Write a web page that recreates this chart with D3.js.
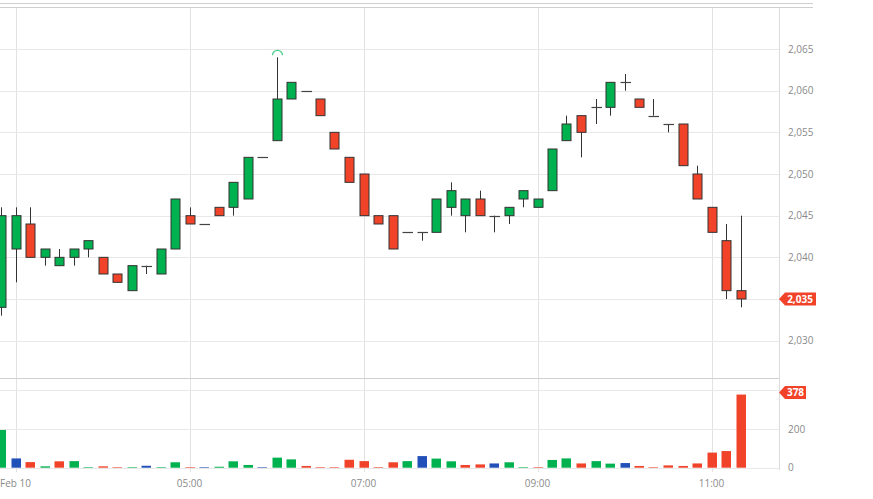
<!DOCTYPE html>
<html><head><meta charset="utf-8">
<script src="https://cdn.jsdelivr.net/npm/d3@7"></script>
<style>body{margin:0;background:#fff;}svg{display:block;font-family:"Open Sans",sans-serif;}</style>
</head><body><svg id="c" width="873" height="499"></svg>
<script>
const times = ["02:50","03:00","03:10","03:20","03:30","03:40","03:50","04:00","04:10","04:20","04:30","04:40","04:50",
"05:00","05:10","05:20","05:30","05:40","05:50","06:00","06:10","06:20","06:30","06:40","06:50",
"07:00","07:10","07:20","07:30","07:40","07:50","08:00","08:10","08:20","08:30","08:40","08:50",
"09:00","09:10","09:20","09:30","09:40","09:50","10:00","10:10","10:20","10:30","10:40","10:50",
"11:00","11:10","11:20"];
const open  = [2034,2041,2044,2040,2039,2040,2041,2040,2038,2036,2039,2038,2041,2045,2044,2046,2046,2047,2052,2054,2059,2060,2059,2055,2052,2050,2045,2045,2043,2043,2043,2046,2045,2047,2045,2045,2047,2046,2048,2054,2057,2058,2058,2061,2059,2057,2056,2056,2050,2046,2042,2036];
const high  = [2046,2046,2046,2041,2041,2041,2042,2040,2038,2039,2039,2041,2047,2046,2044,2046,2049,2052,2052,2064,2061,2060,2059,2055,2052,2050,2045,2045,2043,2043,2047,2049,2047,2048,2045,2046,2048,2047,2053,2057,2057,2059,2061,2062,2059,2059,2056,2056,2051,2046,2044,2045];
const low   = [2033,2037,2040,2039,2039,2039,2040,2038,2037,2036,2038,2038,2041,2044,2044,2045,2045,2047,2052,2054,2059,2060,2057,2053,2049,2045,2044,2041,2043,2042,2043,2045,2043,2045,2043,2044,2046,2046,2048,2054,2052,2056,2057,2060,2058,2057,2055,2051,2047,2043,2035,2034];
const close = [2045,2045,2040,2041,2040,2041,2042,2038,2037,2039,2039,2041,2047,2044,2044,2045,2049,2052,2052,2059,2061,2060,2057,2053,2049,2045,2044,2041,2043,2043,2047,2048,2047,2045,2045,2046,2048,2047,2053,2056,2055,2058,2061,2061,2058,2057,2056,2051,2047,2043,2036,2035];
const volume = [195,48,29,7,33,34,3,7,3,3,10,3,28,3,3,5,33,14,3,52,43,9,3,3,41,34,3,28,34,60,47,33,14,17,22,28,3,3,40,48,22,34,21,24,9,3,12,9,22,78,86,378];
const priceTicks = [2030,2035,2040,2045,2050,2055,2060,2065];
const volTicks = [0,200];
const volGrid = [0,200,400];
const xTickTimes = ["03:00","05:00","07:00","09:00","11:00"];
const xTickLabels = ["Feb 10","05:00","07:00","09:00","11:00"];

const GREEN="#00b14f", RED="#f0432a", BLUE="#2150b8", EDGE="#333";
const parse = d3.timeParse("%H:%M");
const svg = d3.select("#c");
const W = 779;
const x = d3.scaleTime().domain([parse("03:00"), parse("11:00")]).range([15.5, 711.5]);
const y = d3.scaleLinear().domain([2035, 2065]).range([299, 49]);
const yv = d3.scaleLinear().domain([0, 200]).range([467.7, 429]);

const data = times.map((t,i)=>({t:parse(t),o:open[i],h:high[i],l:low[i],c:close[i],v:volume[i],
  vc: i===0 ? GREEN : (close[i]>close[i-1]?GREEN:(close[i]<close[i-1]?RED:BLUE))}));

// top border lines
svg.append("line").attr("x1",0).attr("x2",813).attr("y1",3.5).attr("y2",3.5).attr("stroke","#cfcfcf");
svg.append("line").attr("x1",0).attr("x2",813).attr("y1",7.5).attr("y2",7.5).attr("stroke","#cfcfcf");

// vertical grid
const xt = xTickTimes.map(parse);
svg.append("g").selectAll("line").data(xt).join("line")
  .attr("x1",d=>Math.round(x(d))+0.5).attr("x2",d=>Math.round(x(d))+0.5)
  .attr("y1",8).attr("y2",472).attr("stroke","#e2e2e2");

// price horizontal grid
svg.append("g").selectAll("line").data(priceTicks).join("line")
  .attr("x1",0).attr("x2",W).attr("y1",d=>Math.round(y(d))+0.5).attr("y2",d=>Math.round(y(d))+0.5)
  .attr("stroke","#e8e8e8");
// volume grid
svg.append("g").selectAll("line").data(volGrid).join("line")
  .attr("x1",0).attr("x2",W).attr("y1",d=>Math.round(yv(d))+0.5).attr("y2",d=>Math.round(yv(d))+0.5)
  .attr("stroke","#e8e8e8");
// separator
svg.append("line").attr("x1",0).attr("x2",W).attr("y1",378.5).attr("y2",378.5).attr("stroke","#cfcfcf");
// right axis line
svg.append("line").attr("x1",W+0.5).attr("x2",W+0.5).attr("y1",8).attr("y2",470).attr("stroke","#dcdcdc");

// price axis labels
const fmt = d3.format(",");
svg.append("g").selectAll("text").data(priceTicks).join("text")
  .attr("x",788).attr("y",d=>y(d)).attr("dy","0.35em").attr("font-size",10).attr("fill","#8a8a8a")
  .text(d=>fmt(d));
svg.append("g").selectAll("text").data(volTicks).join("text")
  .attr("x",788).attr("y",d=>yv(d)).attr("dy","0.35em").attr("font-size",10).attr("fill","#8a8a8a")
  .text(d=>d);
// x labels
svg.append("g").selectAll("text").data(xt).join("text")
  .attr("x",d=>x(d)).attr("y",483).attr("dy","0.35em").attr("text-anchor","middle")
  .attr("font-size",10).attr("fill","#8a8a8a").text((d,i)=>xTickLabels[i]);

// price panel clip
svg.append("clipPath").attr("id","pc").append("rect").attr("x",0).attr("y",8).attr("width",W).attr("height",370);
const pg = svg.append("g").attr("clip-path","url(#pc)");
const bw = 9;
// wicks
pg.selectAll("line.w").data(data).join("line").attr("class","w")
  .attr("x1",d=>Math.round(x(d.t))+0.5).attr("x2",d=>Math.round(x(d.t))+0.5)
  .attr("y1",d=>y(d.h)).attr("y2",d=>y(d.l)).attr("stroke",EDGE).attr("stroke-width",1);
// bodies
pg.selectAll("rect.b").data(data.filter(d=>d.o!==d.c)).join("rect").attr("class","b")
  .attr("x",d=>Math.round(x(d.t))-bw/2+0.5).attr("width",bw)
  .attr("y",d=>y(Math.max(d.o,d.c))).attr("height",d=>Math.abs(y(d.o)-y(d.c)))
  .attr("fill",d=>d.c>d.o?GREEN:RED).attr("stroke",EDGE).attr("stroke-width",1);
// doji
pg.selectAll("line.d").data(data.filter(d=>d.o===d.c)).join("line").attr("class","d")
  .attr("x1",d=>Math.round(x(d.t))-bw/2-0.5+0.5).attr("x2",d=>Math.round(x(d.t))+bw/2+1.5)
  .attr("y1",d=>Math.round(y(d.o))+0.5).attr("y2",d=>Math.round(y(d.o))+0.5)
  .attr("stroke","#444").attr("stroke-width",1.2);

// high marker arc
const hi = data.reduce((a,b)=>b.h>a.h?b:a);
pg.append("path")
  .attr("d", d3.arc()({innerRadius:5,outerRadius:5,startAngle:-Math.PI/2,endAngle:Math.PI/2}))
  .attr("transform",`translate(${Math.round(x(hi.t))+0.5},${y(hi.h)-2})`)
  .attr("fill","none").attr("stroke","#4fd08e").attr("stroke-width",1.3);

// volume bars
svg.append("g").selectAll("rect").data(data).join("rect")
  .attr("x",d=>Math.round(x(d.t))-4.5).attr("width",9.5)
  .attr("y",d=>yv(d.v)).attr("height",d=>yv(0)-yv(d.v)).attr("fill",d=>d.vc);

// last price tag
const last = data[data.length-1];
const ty = y(last.c);
svg.append("path").attr("d",`M${W},${ty} L${W+6},${ty-6.5} L${W+37},${ty-6.5} L${W+37},${ty+6.5} L${W+6},${ty+6.5} Z`).attr("fill",RED);
svg.append("text").attr("x",W+21).attr("y",ty).attr("dy","0.35em").attr("text-anchor","middle")
  .attr("font-size",10).attr("font-weight","bold").attr("fill","#fff").text(fmt(last.c));
const vy = yv(last.v)-2;
svg.append("path").attr("d",`M${W},${vy} L${W+6},${vy-6.5} L${W+27},${vy-6.5} L${W+27},${vy+6.5} L${W+6},${vy+6.5} Z`).attr("fill",RED);
svg.append("text").attr("x",W+16.5).attr("y",vy).attr("dy","0.35em").attr("text-anchor","middle")
  .attr("font-size",10).attr("font-weight","bold").attr("fill","#fff").text(last.v);
</script></body></html>
